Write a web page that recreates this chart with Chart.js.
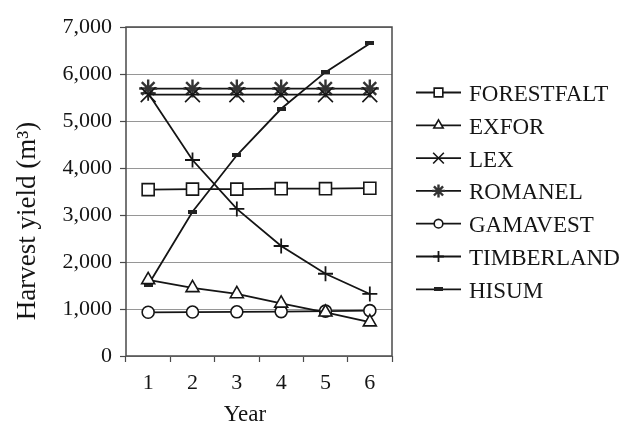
<!DOCTYPE html>
<html>
<head>
<meta charset="utf-8">
<script src="https://cdn.jsdelivr.net/npm/chart.js@4/dist/chart.umd.min.js"></script>
<style>
  html, body { margin: 0; padding: 0; background: #fff; }
  #wrap { width: 628px; height: 425px; }
</style>
</head>
<body>
<div id="wrap"><canvas id="c" width="628" height="425"></canvas></div>
<script>
// Harvest yield per simulator over six years (m³)
const years = ['1', '2', '3', '4', '5', '6'];
const yTicks = [0, 1000, 2000, 3000, 4000, 5000, 6000, 7000];

const forestfalt = [3540, 3550, 3550, 3560, 3560, 3570];
const exfor      = [1620, 1450, 1320, 1120, 930, 720];
const lex        = [5560, 5560, 5560, 5560, 5560, 5560];
const romanel    = [5690, 5690, 5690, 5690, 5690, 5690];
const gamavest   = [930, 935, 940, 945, 955, 965];
const timberland = [5590, 4170, 3130, 2340, 1750, 1320];
const hisum      = [1510, 3070, 4270, 5260, 6040, 6650];

const SERIF = "'Liberation Serif', 'Times New Roman', serif";
const INK = '#151515';

// small filled dash used as the HISUM marker
const dash = document.createElement('canvas');
dash.width = 9; dash.height = 4;
const dctx = dash.getContext('2d');
dctx.fillStyle = '#222';
dctx.fillRect(0, 0, 9, 4);

function series(label, data, style, radius, extra) {
  return Object.assign({
    label, data,
    borderColor: INK,
    borderWidth: 1.8,
    pointStyle: style,
    pointRadius: radius,
    pointHoverRadius: radius,
    pointBorderColor: INK,
    pointBackgroundColor: '#fff',
    pointBorderWidth: 1.6,
    tension: 0,
    fill: false
  }, extra || {});
}

const datasets = [
  series('FORESTFALT', forestfalt, 'rect', 8.5),
  series('EXFOR', exfor, 'triangle', 7.5),
  series('LEX', lex, 'crossRot', 10.5, { pointBorderWidth: 1.6 }),
  series('ROMANEL', romanel, 'star', 9, { pointBorderColor: '#333', pointBorderWidth: 2.4 }),
  series('GAMAVEST', gamavest, 'circle', 6),
  series('TIMBERLAND', timberland, 'cross', 7.5, { pointBorderWidth: 1.8 }),
  series('HISUM', hisum, dash, 5)
];

// frame around the plotting area
const frame = {
  id: 'frame',
  beforeDatasetsDraw(chart) {
    const { ctx, chartArea: a } = chart;
    ctx.save();
    ctx.strokeStyle = '#4a4a4a';
    ctx.lineWidth = 1.5;
    ctx.strokeRect(a.left, a.top, a.right - a.left, a.bottom - a.top);
    ctx.restore();
  }
};

// axis titles
const titles = {
  id: 'titles',
  afterDraw(chart) {
    const { ctx, chartArea: a } = chart;
    ctx.save();
    ctx.fillStyle = INK;
    ctx.textAlign = 'center';
    ctx.textBaseline = 'alphabetic';
    ctx.font = '23px ' + SERIF;
    ctx.fillText('Year', (a.left + a.right) / 2 - 14, 421);
    ctx.translate(35, 221);
    ctx.rotate(-Math.PI / 2);
    ctx.font = '27px ' + SERIF;
    ctx.fillText('Harvest yield (m³)', 0, 0);
    ctx.restore();
  }
};

// legend: short line with the series marker, then the name
const sideLegend = {
  id: 'sideLegend',
  afterDraw(chart) {
    const { ctx } = chart;
    const x0 = 416, x1 = 461, tx = 469, y0 = 92.5, dy = 32.8;
    chart.data.datasets.forEach((ds, i) => {
      const y = y0 + i * dy;
      ctx.save();
      ctx.strokeStyle = INK;
      ctx.lineWidth = 1.8;
      ctx.beginPath();
      ctx.moveTo(x0, y);
      ctx.lineTo(x1, y);
      ctx.stroke();
      ctx.strokeStyle = ds.pointBorderColor;
      ctx.fillStyle = ds.pointBackgroundColor;
      ctx.lineWidth = ds.pointBorderWidth;
      Chart.helpers.drawPoint(ctx, {
        pointStyle: ds.pointStyle,
        rotation: 0,
        radius: ds.pointRadius * 0.72,
        borderWidth: ds.pointBorderWidth
      }, (x0 + x1) / 2, y);
      ctx.fillStyle = INK;
      ctx.font = '23px ' + SERIF;
      ctx.textAlign = 'left';
      ctx.textBaseline = 'alphabetic';
      ctx.fillText(ds.label, tx, y + 8.5);
      ctx.restore();
    });
  }
};

new Chart(document.getElementById('c'), {
  type: 'line',
  data: { labels: years, datasets },
  plugins: [frame, titles, sideLegend],
  options: {
    responsive: false,
    devicePixelRatio: 1,
    animation: false,
    layout: { padding: { top: 27, right: 236, bottom: 0, left: 0 } },
    plugins: {
      legend: { display: false },
      tooltip: { enabled: false }
    },
    scales: {
      x: {
        type: 'category',
        offset: true,
        afterFit(s) { s.height = 69; },
        grid: {
          offset: true,
          drawOnChartArea: false,
          drawTicks: true,
          tickLength: 6,
          tickColor: '#4a4a4a',
          tickWidth: 1.2
        },
        border: { display: false },
        ticks: {
          color: INK,
          font: { family: SERIF, size: 22 },
          padding: 8,
          maxRotation: 0
        }
      },
      y: {
        min: 0,
        max: 7000,
        afterFit(s) { s.width = 126; },
        afterBuildTicks(s) { s.ticks = yTicks.map(v => ({ value: v })); },
        grid: {
          color: '#969696',
          lineWidth: 1,
          drawTicks: true,
          tickLength: 6,
          tickColor: '#4a4a4a',
          tickWidth: 1.2
        },
        border: { display: false },
        ticks: {
          color: INK,
          font: { family: SERIF, size: 22 },
          padding: 8,
          callback: v => v.toLocaleString('en-US')
        }
      }
    }
  }
});
</script>
</body>
</html>
